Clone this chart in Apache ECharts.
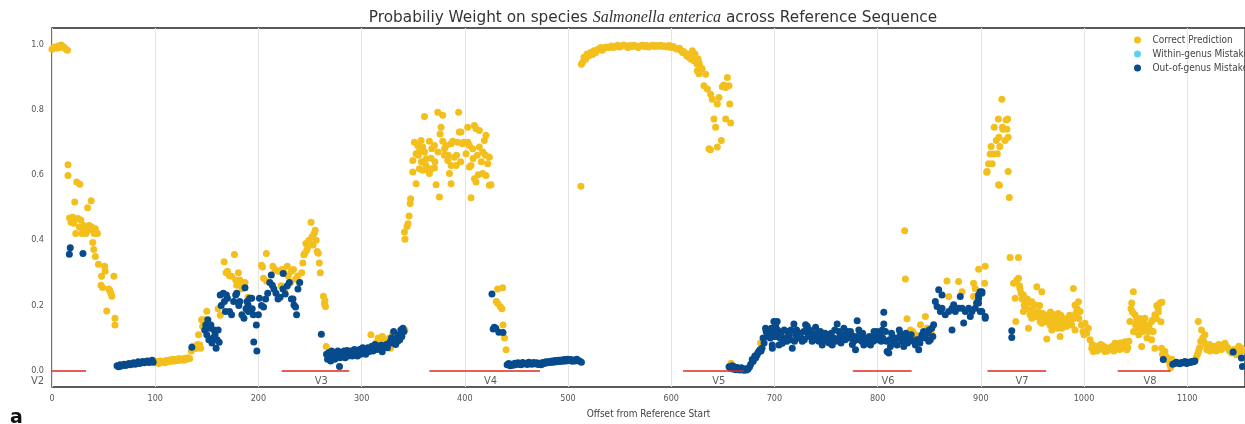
<!DOCTYPE html>
<html><head><meta charset="utf-8">
<script src="https://cdn.jsdelivr.net/npm/echarts@6/dist/echarts.min.js"></script>
<style>html,body{margin:0;padding:0;background:#fff}#c{width:1245px;height:424px}</style>
</head><body><div id="c"></div>
<script>
const titleText = 'Probabiliy Weight on species ';
const titleSpecies = 'Salmonella enterica';
const titleTail = ' across Reference Sequence';
const xAxisName = 'Offset from Reference Start';
const seriesNames = ['Correct Prediction', 'Within-genus Mistake', 'Out-of-genus Mistake'];
const xTicks = [0,100,200,300,400,500,600,700,800,900,1000,1100];
const yTicks = [0,0.2,0.4,0.6,0.8,1.0];
const regionNames = ['V2','V3','V4','V5','V6','V7','V8'];
const regionStart = [0,222.5,365.7,611.5,776,906.5,1032.6];
const regionEnd = [33,288,472.8,670.5,833,963.3,1084];
const regionLabelAt = [-14,261,425,646,810,940,1064];

const correctPrediction = [
[0,0.985],[1.5,0.99],[3,0.992],[4.5,0.988],[6,0.995],[7.5,0.99],[9,0.998],[10.5,0.993],[12,0.99],[13.5,0.985],[15,0.982],
[15.5,0.631],[15.5,0.598],[17,0.468],[18.5,0.455],[20,0.47],[21,0.452],[22,0.517],[23,0.42],[24,0.578],[25,0.466],[26.5,0.44],[27,0.571],[28,0.462],[29,0.42],[30,0.43],[31,0.445],[32,0.44],[33,0.42],[34.5,0.499],[35,0.43],[36,0.445],[37,0.44],[38,0.521],[38.5,0.44],[39.5,0.393],[40,0.43],[41,0.42],[42,0.435],[40.5,0.371],[42,0.35],[45,0.326],[44,0.42],[48,0.289],[47.5,0.262],[49,0.255],[51,0.32],[51.5,0.305],[53,0.183],[55,0.25],[56,0.245],[57,0.238],[58,0.228],[60,0.289],[61,0.161],[61,0.14],
[99,0.03],[100.5,0.025],[102,0.028],[103.5,0.022],[105,0.03],[106.5,0.026],[108,0.029],[109.5,0.024],[111,0.031],[112.5,0.027],[114,0.033],[115.5,0.029],[117,0.035],[118.5,0.03],[120,0.034],[121.5,0.031],[123,0.037],[124.5,0.033],[126,0.036],[127.5,0.032],[129,0.038],[130.5,0.035],[132,0.04],[133.5,0.037],[135,0.06],[136.5,0.075],[138,0.07],[139.5,0.068],[141,0.08],
[142,0.11],[143.2,0.079],[144,0.069],[145,0.156],[146,0.136],[147,0.14],[148,0.156],[150,0.182],[151,0.14],[161,0.19],[163,0.17],[166.8,0.334],[168.7,0.3],[170,0.305],[172,0.291],[174,0.289],[176.8,0.356],[178,0.278],[179,0.262],[180.6,0.3],[182,0.278],[184,0.25],[185,0.262],[187,0.27],[190,0.225],[203,0.323],
[204,0.318],[205,0.283],[207.7,0.359],[208,0.274],[214,0.32],[216,0.31],[219,0.305],[222,0.26],[223,0.31],[225,0.3],[226,0.25],[228,0.32],[229,0.29],[231,0.27],[232,0.305],[234,0.31],[236,0.28],[238,0.29],[240,0.27],[242,0.3],[243,0.33],[244,0.355],[245,0.36],[246,0.39],[247,0.37],[248,0.38],[249,0.4],[250,0.39],[251,0.455],[252,0.41],[253,0.385],[254,0.42],[255,0.43],[256,0.4],[257,0.365],[258,0.36],[259,0.33],[260,0.3],[263,0.228],[264,0.205],[265,0.197],[264.5,0.215],[265.7,0.074],
[309,0.11],[312,0.075],[314,0.085],[316,0.1],[318,0.09],[320,0.105],[322,0.095],[324,0.09],[326,0.08],[327,0.1],[328,0.069],[330,0.11],[342,0.125],
[341.5,0.425],[342,0.403],[344,0.442],[345,0.45],[346,0.474],[347,0.512],[347.5,0.527],
[349.6,0.644],[349.6,0.609],[351.2,0.7],[352.8,0.665],[352.8,0.573],[354.4,0.69],[356,0.672],[356,0.619],[357.6,0.705],[359.2,0.685],[359.2,0.614],[360.9,0.779],[362.5,0.649],[362.5,0.629],[364.1,0.614],[365.7,0.703],[365.7,0.604],[367.3,0.651],[367.3,0.619],[370.6,0.69],[370.6,0.621],[372.2,0.57],[373.8,0.792],[375.4,0.532],[376,0.725],[377,0.746],[378.6,0.783],[378.6,0.703],[380.3,0.68],[380.3,0.66],[383.5,0.644],[385.1,0.604],[386.7,0.695],[386.7,0.629],[386.7,0.573],[388.3,0.703],[389.9,0.654],[391.5,0.629],[393.1,0.7],[394,0.792],[394.7,0.731],[396.3,0.731],[397.9,0.695],[401.2,0.665],[402.8,0.746],[404.4,0.69],[404.4,0.624],[406,0.629],[406,0.53],[407.6,0.68],[409.3,0.751],[409.3,0.588],[410.9,0.741],[410.9,0.578],[414.1,0.736],[414.1,0.685],[417.3,0.67],[417.3,0.604],[418.9,0.705],[420.5,0.721],[420.5,0.598],[422.2,0.634],[423.8,0.654],[423.8,0.568],[425.4,0.57],
[355,0.66],[358,0.64],[361,0.67],[368,0.68],[371,0.64],[374,0.67],[382,0.69],[384,0.66],[392,0.66],[396,0.64],[399,0.7],[403,0.7],[408,0.65],[412,0.66],[416,0.64],[420,0.66],[413,0.6],
[431.8,0.25],[436.7,0.254],[430.5,0.212],[432,0.206],[434.5,0.196],[436,0.19],[437,0.14],[438.5,0.1],[440,0.064],
[512.5,0.565],
[513,0.939],[514,0.944],[515.5,0.96],[517,0.954],[518.5,0.97],[520,0.964],[522,0.975],[523.7,0.969],[525,0.98],[527,0.975],[529,0.985],[531.8,0.99],[533,0.982],[535,0.988],[537,0.992],[539.9,0.99],[542,0.995],[544,0.99],[546,0.993],[548,0.997],[550,0.992],[552,0.995],[554,0.998],[556,0.995],[558,0.99],[560,0.996],[562,0.993],[564,0.997],[566,0.994],[568,0.99],[570,0.995],[572,0.997],[574,0.993],[576,0.996],[578,0.992],[580,0.995],[582,0.997],[584,0.993],[586,0.996],[588,0.994],[590,0.997],[592,0.993],[594,0.995],[596,0.992],[598,0.996],[600,0.99],[602,0.993],[604,0.988],[606,0.985],[608,0.988],[610,0.98],[611,0.975],[612,0.978],[614,0.972],[615,0.965],[616,0.969],[617.3,0.96],[618,0.965],[619,0.955],[620,0.975],[620.5,0.98],[621,0.96],[622,0.95],[623,0.97],[623.7,0.954],[624.5,0.945],[625,0.94],[626,0.955],[626.9,0.944],[627.5,0.935],
[625.3,0.919],[626.9,0.91],[630,0.925],[633.4,0.908],[631.7,0.873],[635,0.863],[638.2,0.847],[639.8,0.832],[644.7,0.817],[646.3,0.837],[649.5,0.87],[651,0.875],[652.8,0.868],[654.4,0.898],[656,0.873],[656.7,0.817],[641.4,0.771],[643,0.746],[652.8,0.771],[657.6,0.759],[636.6,0.68],[638,0.677],[644.7,0.685],[648.6,0.705],
[658,0.023],[686.6,0.085],
[826.2,0.429],[826.9,0.281],[828.5,0.159],[831.8,0.125],[834,0.12],[836.6,0.11],[841.5,0.141],[846.3,0.166],[847.9,0.13],[851.1,0.12],[852.7,0.11],[867.2,0.275],[868.9,0.227],[878.5,0.273],[881.8,0.242],[893,0.268],[894.6,0.252],[893,0.227],[897.9,0.311],[904.3,0.32],[903.7,0.268],
[920.4,0.832],[917,0.771],[926,0.771],[924.5,0.768],[913,0.746],[921,0.746],[921.5,0.74],[925.3,0.74],[917.5,0.715],[926.5,0.715],[915,0.705],[923.5,0.705],[910,0.687],[918.5,0.687],[912.5,0.664],[916,0.665],[911,0.634],[906,0.61],[926.5,0.61],[918,0.568],[927.6,0.531],
[905.9,0.608],[907.5,0.634],[909.1,0.664],[917.2,0.57],[928.4,0.347],[936.5,0.347],[931.7,0.268],[934.9,0.278],[936.5,0.283],[933.3,0.222],[939.1,0.237],[941.3,0.232],[943,0.211],[946.2,0.207],[949.4,0.211],[952.6,0.201],[954.2,0.257],[959.1,0.242],[941.3,0.181],[947.8,0.171],[949.4,0.161],[954.2,0.176],[955.9,0.166],[957.5,0.151],[959.1,0.145],[962.3,0.161],[965.5,0.151],[967.1,0.14],[968.8,0.125],[972,0.171],[975.2,0.161],[976.8,0.151],[978.4,0.13],[981.7,0.145],[984.9,0.161],[989.7,0.252],[991.3,0.201],[994.6,0.211],[993,0.191],[996.2,0.181],[988.1,0.14],[991.3,0.125],[946.2,0.13],[933.9,0.151],[963.9,0.097],[976.8,0.105],
[937.5,0.26],[938,0.25],[940,0.22],[942,0.2],[944,0.19],[945,0.22],[948,0.185],[950,0.175],[951,0.195],[953,0.165],[956,0.18],[957,0.2],[958,0.16],[960,0.175],[961,0.155],[963,0.15],[964,0.17],[966,0.165],[967.5,0.18],[969.5,0.155],[970,0.14],[971,0.16],[973,0.15],[974,0.13],[975,0.175],[977.5,0.17],[979,0.145],[980,0.16],[982,0.155],[983,0.135],[986,0.17],[987,0.15],[990,0.16],[992,0.175],[995,0.16],[997.5,0.14],[999,0.12],[1000,0.11],
[1001,0.145],[1004.2,0.13],[1002.6,0.115],[1005.8,0.095],[1007.5,0.069],[1009,0.059],[1013.9,0.069],[1017.1,0.079],[1020.3,0.059],[1023.6,0.069],[1026.8,0.074],[1030,0.084],[1033.3,0.079],[1036.5,0.069],[1039.7,0.089],[1041.3,0.064],
[1008,0.08],[1010,0.065],[1011.5,0.075],[1012.5,0.06],[1015,0.07],[1016,0.08],[1018,0.065],[1019,0.075],[1021.5,0.07],[1022.5,0.06],[1025,0.065],[1028,0.07],[1029,0.06],[1031.5,0.075],[1034.5,0.065],[1035,0.085],[1038,0.075],[1040.5,0.08],[1042.5,0.07],[1043.5,0.09],
[1046.2,0.207],[1047.8,0.242],[1044.5,0.151],[1049.4,0.171],[1052.6,0.13],[1055.8,0.14],[1059,0.161],[1065.5,0.151],[1068.7,0.171],[1071.9,0.191],[1073.6,0.207],[1062.3,0.12],[1065.5,0.095],[1068.7,0.069],[1055.8,0.074],[1075.2,0.069],[1078.4,0.059],[1083.2,0.018],
[1045.5,0.19],[1047,0.18],[1048,0.12],[1050,0.14],[1051,0.155],[1053,0.11],[1054,0.16],[1057,0.12],[1058,0.145],[1060,0.135],[1061,0.1],[1063,0.14],[1064,0.125],[1066.5,0.155],[1067,0.12],[1070,0.16],[1070.5,0.2],[1072,0.18],[1074.5,0.15],[1075.5,0.21],[1076,0.05],[1079,0.045],[1080.5,0.04],[1082,0.03],[1084,0.01],[1085,0.035],
[1108.5,0.04],[1110,0.05],[1110.7,0.151],[1111,0.06],[1112,0.07],[1113,0.09],[1113.9,0.125],[1115,0.1],[1116,0.09],[1117.1,0.11],[1118,0.08],[1119,0.065],[1120.3,0.069],[1121.5,0.08],[1122,0.06],[1123.6,0.074],[1125,0.075],[1126.5,0.07],[1128,0.06],[1130,0.079],[1131,0.08],[1133,0.065],[1134,0.07],[1136.5,0.084],[1138,0.075],[1139.7,0.069],[1141,0.06],[1142.9,0.054],[1145.5,0.065],[1147.7,0.049],[1148.5,0.055],[1150,0.075],[1152.6,0.069],[1153,0.06]
];

const withinGenusMistake = [];

const outOfGenusMistake = [
[16.8,0.357],[17.7,0.377],[30,0.359],
[63,0.015],[64.5,0.012],[66,0.018],[67,0.014],[68.5,0.017],[70,0.02],[71.5,0.016],[73,0.019],[74.5,0.022],[76,0.018],[77.5,0.021],[79,0.024],[80.5,0.02],[82,0.023],[83.5,0.027],[85,0.022],[86.5,0.026],[88,0.028],[89.5,0.024],[91,0.027],[92.5,0.03],[94,0.025],[95.5,0.029],[97,0.032],[98,0.026],
[135.5,0.072],
[148,0.125],[149,0.14],[150,0.11],[151,0.156],[152,0.095],[153,0.13],[154,0.14],[155,0.085],[156,0.1],[157,0.125],[158,0.11],[159,0.069],[160,0.095],[161,0.125],[162,0.087],
[163,0.232],[164,0.2],[166,0.237],[167,0.212],[168,0.181],[169,0.232],[170,0.222],[172,0.181],[174,0.171],[176,0.212],[178,0.232],[179,0.237],[181,0.2],[182,0.212],[184,0.171],[186,0.161],[187,0.254],[188,0.19],[189,0.212],[190,0.201],[190.3,0.181],[193.5,0.222],[195.5,0.088],[198.5,0.06],
[191.6,0.222],[194,0.19],[195,0.171],[198,0.14],[200,0.171],[201,0.222],[203,0.2],[205,0.195],[207,0.22],[209,0.237],[211,0.27],[212.5,0.293],[213.5,0.262],[215,0.25],[217,0.237],[219,0.22],[221,0.225],[223.8,0.25],[224,0.298],[226,0.235],[228,0.26],[230,0.27],[232,0.22],[233.5,0.22],[234.5,0.201],[236,0.195],[237,0.171],[238.3,0.25],[240,0.27],
[261,0.112],[266,0.05],[267,0.035],[268,0.055],[269,0.045],[270,0.03],[271,0.06],[272,0.04],[273,0.05],[274,0.035],[275,0.055],[276,0.045],[277,0.06],[278.6,0.013],[279,0.04],[280,0.05],[281,0.055],[282,0.045],[283,0.06],[284,0.04],[285,0.05],[286,0.062],[287,0.045],[288,0.055],[289,0.05],[290,0.06],[291,0.045],[292,0.055],[293,0.065],[294,0.05],[295,0.06],[296,0.045],[297,0.055],[298,0.065],[299,0.05],[300,0.06],[301,0.07],[302,0.055],[303,0.065],[304,0.05],[305,0.06],[306,0.07],[307,0.058],[308,0.066],[310,0.075],[311,0.06],[312,0.07],[313,0.08],[315,0.065],[316,0.075],[318,0.068],[319,0.078],[320,0.058],[322,0.075],[324,0.08],[325,0.07],[327,0.085],[328,0.09],[329,0.1],[330,0.085],[331,0.12],[332,0.095],[333,0.08],[334,0.1],[335,0.09],[336,0.11],[337,0.095],[338,0.125],[339,0.105],[340,0.13],[341,0.12],
[426.3,0.235],[428.6,0.133],[427.5,0.128],[430,0.13],[433,0.118],[437,0.117],
[441,0.018],[442.5,0.022],[444,0.015],[445.5,0.02],[447,0.017],[448.5,0.023],[450,0.019],[451.5,0.024],[453,0.02],[454.5,0.018],[456,0.025],[457.5,0.021],[459,0.023],[460.5,0.019],[462,0.026],[463.5,0.022],[465,0.02],[466.5,0.025],[468,0.021],[469.5,0.024],[471,0.019],[472.5,0.023],[474,0.018],[475.5,0.025],[477,0.022],[478.5,0.027],[480,0.024],[481.5,0.028],[483,0.025],[484.5,0.03],[486,0.026],[487.5,0.031],[489,0.027],[490.5,0.032],[492,0.028],[493.5,0.033],[495,0.029],[496.5,0.034],[498,0.03],[499.5,0.035],[501,0.031],[502.5,0.034],[504,0.029],[505.5,0.033],[507,0.03],[508.5,0.035],[510,0.031],[511.5,0.029],[513,0.026],
[656,0.012],[657.5,0.008],[659,0.015],[660,0.005],[661,0.012],[662.5,0.003],[664,0.01],[665,0.006],[666.5,0.002],[668,0.009],[669,0.004],[670.5,0.001],[672,0.006],[673,0.002],[674.5,0.005],[676,0.012],[677,0.02],
[678.5,0.034],[679.5,0.029],[681,0.045],[682,0.04],[683.3,0.049],[684,0.055],[685,0.059],[686,0.064],[687,0.06],[688,0.069],[689,0.1],[690,0.085],[691.4,0.13],[692,0.12],[693,0.105],[694,0.11],[695,0.12],[696,0.1],[697,0.13],[698,0.069],[699,0.11],[700,0.12],[701.1,0.146],[702.7,0.151],[703,0.125],
[696.3,0.11],[697.9,0.079],[699.5,0.151],[699.5,0.105],[701.2,0.136],[704.4,0.079],[707.6,0.084],[710.8,0.1],[714.1,0.11],[717.3,0.069],[718.9,0.143],[720.5,0.11],[723.7,0.1],[727,0.09],[730.2,0.141],[731.8,0.136],[733.4,0.11],[735,0.12],[736.6,0.09],[739.9,0.133],[739.9,0.1],[743.1,0.09],[746.3,0.079],[747.9,0.105],[751.1,0.09],[754.4,0.1],[756,0.079],[760.8,0.143],[762.4,0.12],[765.6,0.1],[767.3,0.13],[770.5,0.12],[773.7,0.12],[776.9,0.09],[778.6,0.064],[780.2,0.153],[781.8,0.125],[783.4,0.1],[786.6,0.079],[789.8,0.09],[793.1,0.079],[794.7,0.1],[797.9,0.11],[799.5,0.12],[801.1,0.105],[806,0.179],[806,0.143],[807.6,0.12],[809.2,0.059],[810.8,0.054],[812.4,0.074],[815.6,0.09],[817.3,0.1],[818.9,0.079],[822.1,0.115],[823.7,0.09],[825.3,0.074],[830.2,0.105],[836.6,0.079],[839.8,0.064],[843,0.11],[846.3,0.1],[851.1,0.095],[854.3,0.141],
[702,0.105],[703.5,0.12],[705.5,0.1],[706.5,0.115],[708.5,0.095],[709.5,0.125],[712,0.09],[713,0.12],[715.5,0.095],[716,0.125],[719.5,0.09],[721.5,0.125],[722.5,0.105],[725,0.115],[726,0.1],[728.5,0.12],[729,0.095],[732.5,0.105],[734,0.125],[737.5,0.11],[738.5,0.095],[741,0.115],[742,0.105],[744.5,0.12],[745,0.095],[749,0.115],[750,0.1],[752.5,0.11],[753,0.085],[755,0.115],[757.5,0.1],[758.5,0.125],[759.5,0.09],[763.5,0.105],[764.5,0.085],[766.5,0.11],[768.5,0.095],[769.5,0.105],[772,0.1],[774.5,0.11],[775.5,0.08],[777.5,0.105],[779.5,0.095],[782.5,0.11],[784.5,0.09],[785.5,0.115],[788,0.1],[791,0.085],[792,0.105],[796,0.09],[796.5,0.12],[800.5,0.095],[802.5,0.115],[803.5,0.09],[804.5,0.125],[805,0.1],[808.5,0.09],[811.5,0.095],[813.5,0.115],[814.5,0.1],[816.5,0.085],[820,0.1],[821,0.125],[824.5,0.105],[826.5,0.095],[827.5,0.115],[829,0.085],[831,0.095],[832.5,0.11],[834.5,0.09],[838,0.095],[841,0.085],[842,0.1],[844.5,0.12],[848,0.115],[849.5,0.09],[850,0.125],[852.5,0.13],[853.5,0.105],
[855.9,0.212],[857.6,0.197],[859.2,0.248],[860.8,0.181],[862.4,0.232],[862.4,0.191],[865.6,0.171],[868.9,0.181],[872.1,0.191],[872.1,0.125],[873.7,0.202],[875.3,0.181],[878.5,0.191],[880.1,0.227],[881.8,0.191],[883.4,0.146],[885,0.181],[888.2,0.191],[889.8,0.166],[891.4,0.181],[894.6,0.191],[896.3,0.207],[897.9,0.222],[901.1,0.242],[899.5,0.181],[904.3,0.166],[897.8,0.232],[896,0.207],
[899.4,0.242],[901,0.237],[897.8,0.207],[901,0.181],[904.3,0.161],[930,0.122],[930,0.102],
[1076.8,0.034],[1086,0.02],[1088.1,0.023],[1089.5,0.026],[1091.3,0.023],[1093,0.021],[1094.5,0.025],[1096,0.024],[1097.8,0.028],[1099.5,0.022],[1101,0.026],[1103,0.025],[1104.2,0.028],[1106,0.027],[1107.4,0.03],
[1144.5,0.057],[1152.6,0.039],[1153.5,0.013]
];

const GOLD = '#f3bf1c', CYAN = '#35c8e5', BLUE = '#074b8d';
const chart = echarts.init(document.getElementById('c'), null, {renderer: 'canvas'});
const condensed = "'DejaVu Sans Condensed', 'DejaVu Sans', sans-serif";

const regionLines = regionNames.map((n, i) => [{coord: [regionStart[i], 0]}, {coord: [regionEnd[i], 0]}]);
const regionLabels = regionNames.map((n, i) => [regionLabelAt[i], -0.031, n]);

chart.setOption({
  animation: false,
  backgroundColor: '#fff',
  grid: {left: 52, top: 28, right: -2, bottom: 35, show: true, borderColor: '#262626', borderWidth: 1.3, backgroundColor: 'transparent'},
  xAxis: {
    type: 'value', min: 0, max: 1156, interval: 100,
    name: xAxisName, nameLocation: 'middle', nameGap: 22,
    nameTextStyle: {fontFamily: condensed, fontSize: 10, color: '#444'},
    axisLine: {show: false}, axisTick: {show: false},
    axisLabel: {margin: 7, color: '#555', fontSize: 9, fontFamily: condensed,
      customValues: xTicks, formatter: v => String(v)},
    splitLine: {show: true, lineStyle: {color: '#e4e4e4', width: 1}}
  },
  yAxis: {
    type: 'value', min: -0.05, max: 1.05,
    axisLine: {show: false}, axisTick: {show: false},
    axisLabel: {margin: 8, color: '#555', fontSize: 9, fontFamily: condensed,
      customValues: yTicks, formatter: v => v.toFixed(1)},
    splitLine: {show: false}
  },
  legend: {
    orient: 'vertical', left: 1134, top: 35, padding: 0, itemGap: 4,
    itemWidth: 20, itemHeight: 7, icon: 'circle',
    data: seriesNames,
    textStyle: {fontFamily: condensed, fontSize: 10, color: '#444'}
  },
  graphic: [
    {type: 'text', x: 653, y: 18, style: {
      text: '{a|' + titleText + '}{b|' + titleSpecies + '}{a|' + titleTail + '}',
      align: 'center', verticalAlign: 'middle',
      rich: {
        a: {fontSize: 15.3, fontFamily: 'DejaVu Sans', fill: '#333'},
        b: {fontSize: 16, fontFamily: "'Liberation Serif', serif", fontStyle: 'italic', fill: '#333'}
      }}},
    {type: 'text', x: 10, y: 409, style: {text: 'a', fontSize: 19, fontWeight: 'bold', fontFamily: 'DejaVu Sans', fill: '#111'}}
  ],
  series: [
    {name: seriesNames[0], type: 'scatter', data: correctPrediction, symbolSize: 7,
      itemStyle: {color: GOLD, opacity: 1}, emphasis: {disabled: true}},
    {name: seriesNames[1], type: 'scatter', data: withinGenusMistake, symbolSize: 7,
      itemStyle: {color: CYAN}, emphasis: {disabled: true}},
    {name: seriesNames[2], type: 'scatter', data: outOfGenusMistake, symbolSize: 7,
      itemStyle: {color: BLUE, opacity: 1}, emphasis: {disabled: true}},
    {name: 'regions', type: 'scatter', data: regionLabels, symbolSize: 0, clip: false, silent: true,
      itemStyle: {color: 'rgba(0,0,0,0)'},
      label: {show: true, position: 'inside', formatter: p => p.data[2], color: '#333', fontSize: 11, fontFamily: condensed},
      markLine: {silent: true, symbol: 'none', label: {show: false},
        lineStyle: {color: '#e5261f', width: 1.5, type: 'solid'}, data: regionLines}}
  ]
});
</script></body></html>
